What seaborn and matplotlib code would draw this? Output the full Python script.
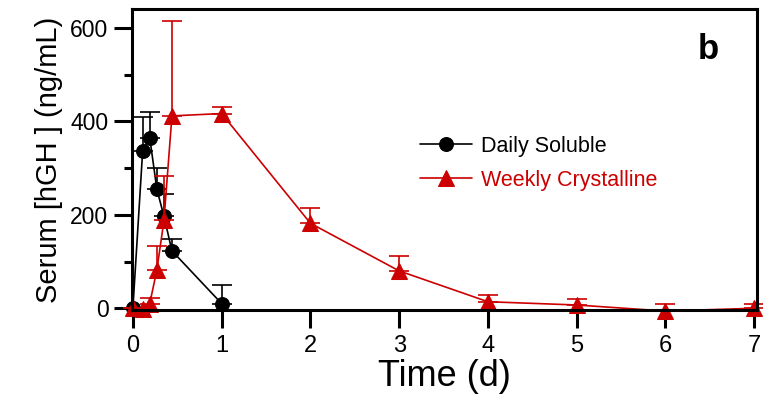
import numpy as np
import seaborn as sns
from matplotlib import pyplot as plt

# time points (days) and serum hGH (ng/mL), upper error bar ends
t_daily = [0, 0.11, 0.19, 0.27, 0.35, 0.44, 1.0]
daily = [0, 337, 365, 255, 197, 123, 10]
daily_up = [0, 410, 420, 300, 245, 148, 49]

t_weekly = [0, 0.11, 0.19, 0.27, 0.35, 0.44, 1, 2, 3, 4, 5, 6, 7]
weekly = [0, -2, 10, 82, 188, 412, 417, 182, 80, 14, 7, -6, 0]
weekly_up = [0, -2, 21, 133, 283, 616, 431, 214, 112, 28, 19, 9, 9]

x_ticks = [0, 1, 2, 3, 4, 5, 6, 7]
y_ticks = [0, 200, 400, 600]

red = "#CC0000"

sns.set_style("ticks")
plt.rcParams["font.family"] = ["Liberation Sans", "DejaVu Sans"]
plt.rcParams["text.color"] = "black"
plt.rcParams["axes.labelcolor"] = "black"
plt.rcParams["xtick.color"] = "black"
plt.rcParams["ytick.color"] = "black"

fig = plt.figure(figsize=(7.63, 4.07), dpi=100)
ax = fig.add_axes([0.173, 0.238, 0.819, 0.740])

# black series first, red on top
sns.lineplot(x=t_daily, y=daily, ax=ax, color="black", marker="o",
             markersize=10, markeredgecolor="black", linewidth=1.2,
             label="Daily Soluble")
ax.errorbar(t_daily, daily, yerr=[np.zeros(len(daily)), np.array(daily_up) - np.array(daily)],
            fmt="none", ecolor="black", elinewidth=1.2, capsize=7, capthick=1.2)

sns.lineplot(x=t_weekly, y=weekly, ax=ax, color=red, marker="^",
             markersize=11, markeredgecolor=red, linewidth=1.2,
             label="Weekly Crystalline")
ax.errorbar(t_weekly, weekly, yerr=[np.zeros(len(weekly)), np.array(weekly_up) - np.array(weekly)],
            fmt="none", ecolor=red, elinewidth=1.2, capsize=7, capthick=1.2)

for ln in ax.lines:
    ln.set_clip_on(False)

ax.set_xlim(-0.01, 7.03)
ax.set_ylim(-4, 641)
ax.set_xticks(x_ticks)
ax.set_yticks(y_ticks)
ax.set_yticks([100, 300, 500], minor=True)

for s in ax.spines.values():
    s.set_linewidth(2.2)
    s.set_color("black")
ax.tick_params(axis="both", which="major", length=13, width=2.2, color="black")
ax.tick_params(axis="y", which="minor", length=6, width=2.2, color="black")
ax.tick_params(axis="x", labelsize=17, pad=5)
ax.tick_params(axis="y", labelsize=16.5, pad=4)

ax.set_xlabel("Time (d)", fontsize=26, labelpad=1)
ax.set_ylabel("Serum [hGH ] (ng/mL)", fontsize=21, labelpad=5)

ax.text(0.922, 0.864, "b", transform=ax.transAxes, fontsize=25,
        fontweight="bold", ha="center", va="center")

leg = ax.legend(loc="upper left", bbox_to_anchor=(420 / 763, 1 - 136 / 407),
                bbox_transform=fig.transFigure, frameon=False, fontsize=15.5,
                handlelength=2.4, handletextpad=0.45, labelspacing=0.6,
                borderpad=0, borderaxespad=0)
for txt, c in zip(leg.get_texts(), ["black", red]):
    txt.set_color(c)

plt.savefig("out.png", dpi=100)
plt.close()
